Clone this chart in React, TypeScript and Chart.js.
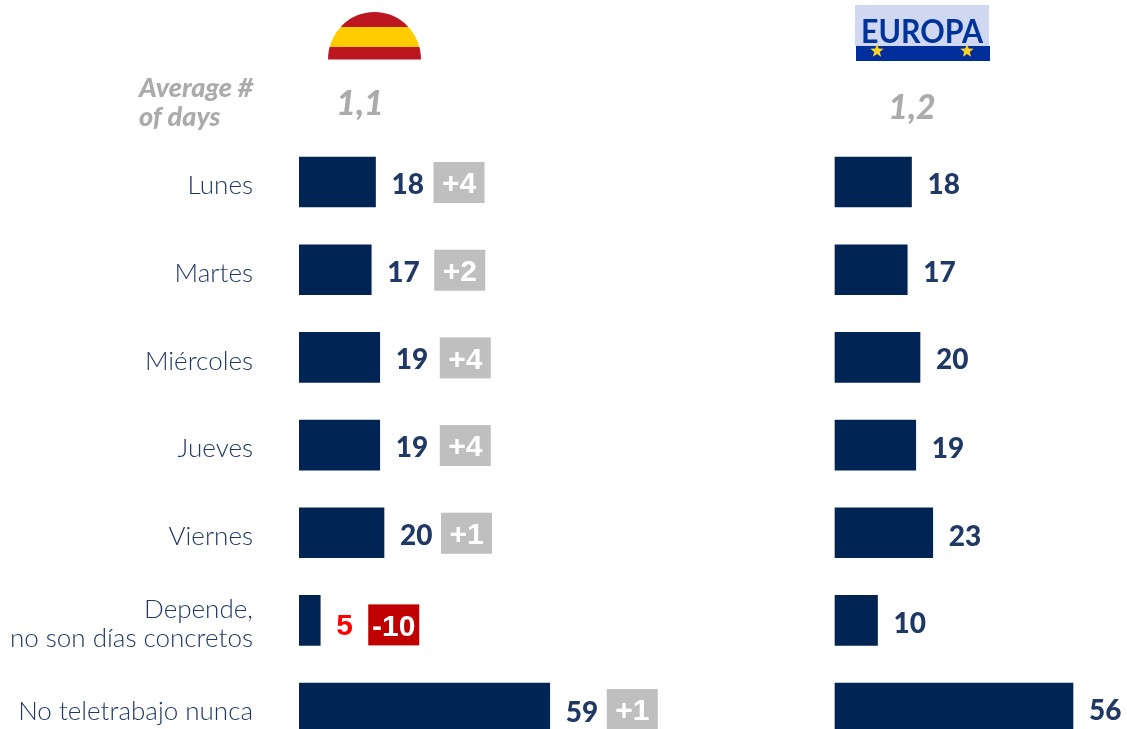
import React, { useEffect, useRef } from "react";
import { Chart, registerables } from "chart.js";

Chart.register(...registerables);

const categories: (string | string[])[] = [
  "Lunes",
  "Martes",
  "Miércoles",
  "Jueves",
  "Viernes",
  ["Depende,", "no son días concretos"],
  "No teletrabajo nunca",
];
const spainValues = [18, 17, 19, 19, 20, 5, 59];
const europeValues = [18, 17, 20, 19, 23, 10, 56];
const spainDeltas = ["+4", "+2", "+4", "+4", "+1", "-10", "+1"];
const averageLabelLines = ["Average #", "of days"];
const spainAverage = "1,1";
const europeAverage = "1,2";
const europeLogoText = "EUROPA";

// layout tuning, kept apart from the data
const deltaGaps = [58, 63, 60, 60, 57, 48, 57];
const deltaRise = [0, 0, 0, 0, 0, 4, 1];
const valueRise = [3, 3, 3, 3, 3, 6, 5];
const europeValueRise = [3, 3, 3, 4, 4, 4, 3];

const NAVY_BAR = "#002554";
const NAVY_TEXT = "#1F3864";
const GREY_TEXT = "#ABABAB";
const GREY_BOX = "#BFBFBF";
const RED_BOX = "#C00000";
const RED_TEXT = "#FF0000";
const PX_PER_UNIT = 4.25;
const LEFT_ZERO = 299;
const RIGHT_ZERO = 835;
const WIDTH = 1127;

function star(ctx: CanvasRenderingContext2D, cx: number, cy: number, r: number) {
  ctx.beginPath();
  for (let i = 0; i < 10; i++) {
    const rad = i % 2 === 0 ? r : r * 0.42;
    const a = -Math.PI / 2 + (i * Math.PI) / 5;
    const x = cx + rad * Math.cos(a);
    const y = cy + rad * Math.sin(a);
    if (i === 0) ctx.moveTo(x, y);
    else ctx.lineTo(x, y);
  }
  ctx.closePath();
  ctx.fill();
}

const overlay = {
  id: "overlay",
  afterDatasetsDraw(chart: any) {
    const ctx: CanvasRenderingContext2D = chart.ctx;
    ctx.save();

    // Spanish flag half circle
    ctx.save();
    ctx.beginPath();
    ctx.ellipse(374.5, 59.5, 46.5, 47.5, 0, Math.PI, 2 * Math.PI);
    ctx.closePath();
    ctx.clip();
    ctx.fillStyle = "#BC1620";
    ctx.fillRect(326, 10, 98, 17);
    ctx.fillStyle = "#FFCC00";
    ctx.fillRect(326, 27, 98, 20);
    ctx.fillStyle = "#BC1620";
    ctx.fillRect(326, 47, 98, 13);
    ctx.restore();

    // Europe logo
    ctx.fillStyle = "#D0D8F1";
    ctx.fillRect(855, 5, 134, 41);
    ctx.fillStyle = "#002F9C";
    ctx.fillRect(856, 46, 134, 15);
    ctx.fillStyle = "#003399";
    ctx.font = "700 32px Lato";
    ctx.textAlign = "center";
    ctx.textBaseline = "alphabetic";
    ctx.fillText(europeLogoText, 922, 43, 122);
    ctx.fillStyle = "#FFD21F";
    star(ctx, 877, 51, 7);
    star(ctx, 967, 51, 7);

    // Average row
    ctx.fillStyle = GREY_TEXT;
    ctx.textAlign = "left";
    ctx.textBaseline = "middle";
    ctx.font = "italic 900 27px Lato";
    ctx.fillText(averageLabelLines[0], 139, 88);
    ctx.fillText(averageLabelLines[1], 139, 117);
    ctx.textAlign = "center";
    ctx.font = "italic 900 34px Lato";
    ctx.fillText(spainAverage, 360, 104);
    ctx.fillText(europeAverage, 912, 108);

    // Spain labels
    const spain = chart.getDatasetMeta(0).data;
    spain.forEach((bar: any, i: number) => {
      const x = bar.x + 16;
      const isRed = spainDeltas[i].startsWith("-");
      ctx.textAlign = "left";
      ctx.textBaseline = "middle";
      ctx.fillStyle = isRed ? RED_TEXT : NAVY_TEXT;
      ctx.font = isRed ? "bold 30px 'Liberation Sans'" : "900 28px 'Lato Black', Lato";
      ctx.fillText(String(spainValues[i]), x, bar.y + valueRise[i]);

      const boxX = bar.x + deltaGaps[i];
      const boxY = bar.y - 20 + deltaRise[i];
      ctx.fillStyle = isRed ? RED_BOX : GREY_BOX;
      ctx.fillRect(boxX, boxY, 51, 41);
      ctx.fillStyle = "#FFFFFF";
      ctx.textAlign = "center";
      ctx.font = "bold 30px 'Liberation Sans'";
      ctx.fillText(spainDeltas[i], boxX + 25.5, boxY + 23, 44);
    });

    // Europe labels
    const europe = chart.getDatasetMeta(1).data;
    europe.forEach((bar: any, i: number) => {
      ctx.textAlign = "left";
      ctx.textBaseline = "middle";
      ctx.fillStyle = NAVY_TEXT;
      ctx.font = "900 28px 'Lato Black', Lato";
      ctx.fillText(String(europeValues[i]), bar.x + 16, bar.y + europeValueRise[i]);
    });
    ctx.restore();
  },
};

export default function App() {
  const ref = useRef<HTMLCanvasElement | null>(null);

  useEffect(() => {
    document.body.style.margin = "0";
    document.body.style.background = "#FFFFFF";
    if (!ref.current) return;
    const plotWidth = WIDTH - LEFT_ZERO;
    const offset = (RIGHT_ZERO - LEFT_ZERO) / PX_PER_UNIT;
    const span = plotWidth / PX_PER_UNIT;
    const chart = new Chart(ref.current, {
      type: "bar",
      data: {
        labels: categories as any,
        datasets: [
          { label: "España", data: spainValues, backgroundColor: NAVY_BAR, xAxisID: "x", yAxisID: "y", barThickness: 50 },
          { label: "Europa", data: europeValues, backgroundColor: NAVY_BAR, xAxisID: "x2", yAxisID: "y", barThickness: 50 },
        ],
      },
      options: {
        indexAxis: "y",
        responsive: false,
        animation: false,
        layout: { padding: { top: 138.2, bottom: 8.1, left: 0, right: 0 } },
        plugins: { legend: { display: false }, tooltip: { enabled: false } },
        datasets: { bar: { grouped: false } },
        scales: {
          x: { display: false, min: 0, max: span },
          x2: { type: "linear", axis: "x", display: false, min: -offset, max: span - offset },
          y: {
            type: "category",
            position: "left",
            grid: { display: false, drawTicks: false },
            border: { display: false },
            afterFit: (scale: any) => {
              scale.width = LEFT_ZERO;
              scale.paddingTop = 0;
              scale.paddingBottom = 0;
            },
            ticks: {
              padding: 46,
              labelOffset: 4,
              color: NAVY_TEXT,
              autoSkip: false,
              font: { family: "Lato", size: 26, weight: "300", lineHeight: 1.13 },
            },
          },
        },
      } as any,
      plugins: [overlay],
    });
    return () => chart.destroy();
  }, []);

  return (
    <div style={{ position: "fixed", left: 0, top: 0, width: WIDTH, height: 729, overflow: "hidden" }}>
      <canvas ref={ref} width={WIDTH} height={760} style={{ display: "block" }} />
    </div>
  );
}
